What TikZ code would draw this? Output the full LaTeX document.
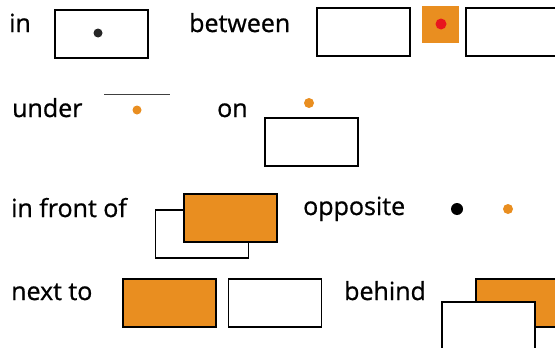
\documentclass[tikz,border=0pt]{standalone}
\usepackage{fontspec}
\setmainfont{Open Sans}[FakeBold=0.8]
\usetikzlibrary{positioning}
\definecolor{boxorange}{RGB}{233,142,32}
\definecolor{dotred}{RGB}{232,22,30}

\begin{document}
\begin{tikzpicture}[x=1pt,y=-1pt,
  word/.style={anchor=base west,inner sep=0pt,font=\fontsize{25}{30}\selectfont},
  wbox/.style={draw=black,fill=white,line width=1.2pt,minimum width=93pt,minimum height=48pt,inner sep=0pt},
  obox/.style={wbox,fill=boxorange},
  dot/.style={circle,inner sep=0pt,minimum size=#1},
  dot/.default=9pt]
\clip (0,0) rectangle (555,348);
\node[word] (in) at (9,32) {in};
\node[wbox] (inbox) at (101.5,34) {};
\node[dot,fill=black!85] (indot) at (98,33) {};
\node[word] (between) at (189,32) {between};
\node[wbox] (leftbox) at (363.5,32) {};
\node[fill=boxorange,minimum size=37pt,inner sep=0pt] (midsq) at (440.5,24.5) {};
\node[dot=11pt,fill=dotred] (middot) at (441,24) {};
\node[wbox] (rightbox) at (512.5,32) {};
\node[word] (under) at (12,117) {under};
\coordinate (lineL) at (104,94);
\coordinate (lineR) at (170,94);
\draw[line width=1pt,black!75] (lineL) -- (lineR);
\node[dot,fill=boxorange] (underdot) at (137,110) {};
\node[word] (on) at (217,117) {on};
\node[wbox] (onbox) at (311.5,142) {};
\node[dot=10pt,fill=boxorange] (ondot) at (309,103) {};
\node[word] (front) at (11,217) {in front of};
\node[wbox] (backbox) at (202,234) {};
\node[obox] (frontbox) at (230.5,218) {};
\node[word] (opposite) at (303,215) {opposite};
\node[dot=12pt,fill=black] (oppblack) at (457,209) {};
\node[dot=10pt,fill=boxorange] (opporange) at (508,209) {};
\node[word] (nextto) at (11,300) {next to};
\node[obox] (nextorange) at (169.5,303) {};
\node[wbox,right=11pt of nextorange] (nextwhite) {};
\node[word] (behind) at (344,300) {behind};
\node[obox] (behindorange) at (522.5,303) {};
\node[wbox] (behindwhite) at (488.5,326) {};
\end{tikzpicture}
\end{document}
